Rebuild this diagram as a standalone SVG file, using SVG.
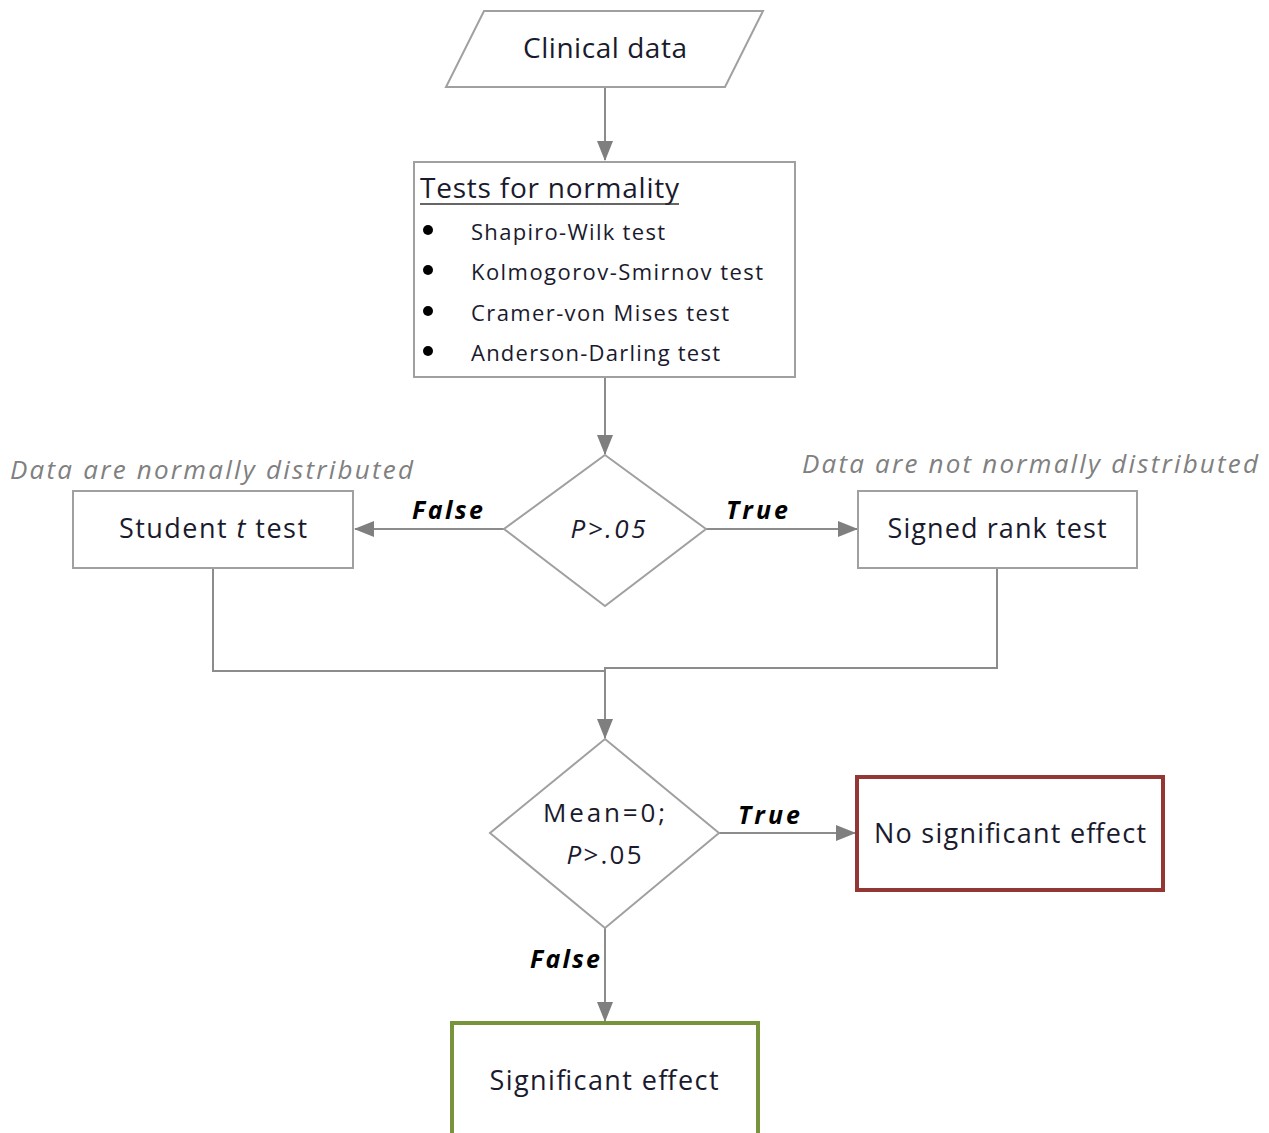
<svg xmlns="http://www.w3.org/2000/svg" width="1269" height="1133" viewBox="0 0 1269 1133">
<style>
.box{fill:#fff;stroke:#a0a0a0;stroke-width:2}
.con{fill:none;stroke:#8c8c8c;stroke-width:2}
.t{font-family:"Open Sans","Liberation Sans",Arial,sans-serif;fill:#1a1a2e}
.lbl{font-family:"Open Sans","Liberation Sans",Arial,sans-serif;font-weight:bold;font-style:italic;font-size:25px;fill:#000}
.note{font-family:"Open Sans","Liberation Sans",Arial,sans-serif;font-style:italic;font-size:26px;fill:#808080}
</style>
<defs>
<marker id="ah" markerWidth="20" markerHeight="16" refX="19" refY="8" orient="auto" markerUnits="userSpaceOnUse">
<path d="M0,0 L20,8 L0,16 Z" fill="#7f7f7f"/>
</marker>
</defs>
<rect width="1269" height="1133" fill="#fff"/>
<g id="connectors">
<line class="con" x1="605" y1="87" x2="605" y2="160" marker-end="url(#ah)"/>
<line class="con" x1="605" y1="378" x2="605" y2="454" marker-end="url(#ah)"/>
<line class="con" x1="504" y1="529" x2="355" y2="529" marker-end="url(#ah)"/>
<line class="con" x1="706" y1="529" x2="857" y2="529" marker-end="url(#ah)"/>
<polyline class="con" points="213,568 213,671 605,671"/>
<polyline class="con" points="997,568 997,668 605,668 605,738" marker-end="url(#ah)"/>
<line class="con" x1="719" y1="833" x2="855" y2="833" marker-end="url(#ah)"/>
<line class="con" x1="605" y1="928" x2="605" y2="1021" marker-end="url(#ah)"/>
<text class="lbl" x="412" y="519" textLength="71">False</text>
<text class="lbl" x="726" y="519" textLength="62">True</text>
<text class="lbl" x="738" y="824" textLength="62">True</text>
<text class="lbl" x="530" y="968" textLength="70">False</text>
</g>
<g id="clinical">
<polygon class="box" points="484,11 763,11 725,87 446,87"/>
<text class="t" x="605" y="58" font-size="28" text-anchor="middle" textLength="164">Clinical data</text>
</g>
<g id="tests">
<rect class="box" x="414" y="162" width="381" height="215"/>
<text class="t" x="420" y="198" font-size="28" textLength="259">Tests for normality</text>
<line x1="420" y1="204" x2="679" y2="204" stroke="#333" stroke-width="1.5"/>
<g fill="#000"><circle cx="428" cy="230" r="5"/><circle cx="428" cy="270" r="5"/><circle cx="428" cy="311" r="5"/><circle cx="428" cy="351" r="5"/></g>
<text class="t" x="471" y="240" font-size="22" textLength="194">Shapiro-Wilk test</text>
<text class="t" x="471" y="280" font-size="22" textLength="292">Kolmogorov-Smirnov test</text>
<text class="t" x="471" y="321" font-size="22" textLength="258">Cramer-von Mises test</text>
<text class="t" x="471" y="361" font-size="22" textLength="249">Anderson-Darling test</text>
</g>
<g id="decision1">
<polygon class="box" points="605,455 706,529 605,606 504,529"/>
<text class="t" x="608" y="538" font-size="26" font-style="italic" text-anchor="middle" textLength="75">P&gt;.05</text>
</g>
<g id="student">
<rect class="box" x="73" y="491" width="280" height="77"/>
<text class="t" x="213" y="538" font-size="27" text-anchor="middle" textLength="188">Student <tspan font-style="italic">t</tspan> test</text>
<text class="note" x="10" y="479" textLength="403">Data are normally distributed</text>
</g>
<g id="signed">
<rect class="box" x="858" y="491" width="279" height="77"/>
<text class="t" x="997" y="538" font-size="27" text-anchor="middle" textLength="219">Signed rank test</text>
<text class="note" x="802" y="473" textLength="456">Data are not normally distributed</text>
</g>
<g id="decision2">
<polygon class="box" points="605,739 719,833 605,928 490,833"/>
<text class="t" x="604" y="822" font-size="26" text-anchor="middle" textLength="122">Mean=0;</text>
<text class="t" x="604" y="864" font-size="26" text-anchor="middle" textLength="75"><tspan font-style="italic">P</tspan>&gt;.05</text>
</g>
<g id="nosig">
<rect x="857" y="777" width="306" height="113" fill="#fff" stroke="#943634" stroke-width="4"/>
<text class="t" x="1010" y="843" font-size="27" text-anchor="middle" textLength="272">No significant effect</text>
</g>
<g id="sig">
<rect x="452" y="1023" width="306" height="130" fill="#fff" stroke="#77933c" stroke-width="4"/>
<text class="t" x="604" y="1090" font-size="27" text-anchor="middle" textLength="229">Significant effect</text>
</g>
</svg>
